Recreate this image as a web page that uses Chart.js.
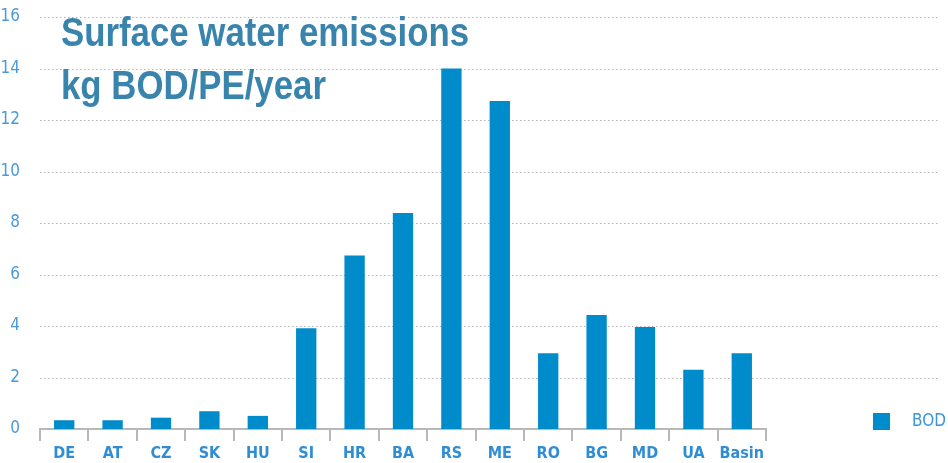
<!DOCTYPE html>
<html>
<head>
<meta charset="utf-8">
<script src="https://cdn.jsdelivr.net/npm/chart.js@4/dist/chart.umd.min.js"></script>
<style>
html,body{margin:0;padding:0;background:#fff;}
#wrap{width:948px;height:463px;position:relative;}
</style>
</head>
<body>
<div id="wrap"><canvas id="c" width="948" height="463"></canvas></div>
<script>
const categories = ['DE','AT','CZ','SK','HU','SI','HR','BA','RS','ME','RO','BG','MD','UA','Basin'];
const bodValues = [0.34,0.34,0.44,0.69,0.51,3.91,6.74,8.39,14.0,12.74,2.94,4.43,3.96,2.30,2.94];
const seriesName = 'BOD';
const titleLines = ['Surface water emissions','kg BOD/PE/year'];
const yTicks = [0,2,4,6,8,10,12,14,16];

const BAR = '#008bcb';
const NARROW = "'Liberation Sans Narrow','DejaVu Sans Condensed','Roboto Condensed',sans-serif";

const extrasPlugin = {
  id: 'extras',
  beforeDatasetsDraw(chart) {
    const ctx = chart.ctx, y = chart.scales.y, ca = chart.chartArea;
    ctx.save();
    ctx.strokeStyle = '#b4b4b4';
    ctx.lineWidth = 1;
    ctx.setLineDash([1.5, 2.5]);
    yTicks.forEach(v => {
      if (v === 0) return;
      const py = Math.round(y.getPixelForValue(v)) + 0.5;
      ctx.beginPath();
      ctx.moveTo(ca.left, py);
      ctx.lineTo(chart.width - 8, py);
      ctx.stroke();
    });
    ctx.restore();
  },
  afterDraw(chart) {
    const ctx = chart.ctx, ca = chart.chartArea;
    ctx.save();
    ctx.fillStyle = '#3884ad';
    ctx.textBaseline = 'alphabetic';
    ctx.font = "bold 40px 'Liberation Sans','Arial',sans-serif";
    const sx = 0.87;
    titleLines.forEach((t, i) => {
      ctx.save();
      ctx.translate(ca.left + 21, 46 + i * 53);
      ctx.scale(sx, 1);
      ctx.fillText(t, 0, 0);
      ctx.restore();
    });
    const ds = chart.data.datasets[0];
    const lx = ca.right + 107, ly = ca.bottom - 16;
    ctx.fillStyle = ds.backgroundColor;
    ctx.fillRect(lx, ly, 17, 17);
    ctx.fillStyle = '#3d94d8';
    ctx.font = "17px " + NARROW;
    ctx.textBaseline = 'middle';
    ctx.fillText(ds.label, lx + 39, ly + 9);
    ctx.restore();
  }
};

new Chart(document.getElementById('c'), {
  type: 'bar',
  data: {
    labels: categories,
    datasets: [{
      label: seriesName,
      data: bodValues,
      backgroundColor: BAR,
      borderWidth: 0,
      categoryPercentage: 1,
      barPercentage: 0.42
    }]
  },
  options: {
    responsive: false,
    animation: false,
    devicePixelRatio: 1,
    layout: { padding: { top: 17, right: 182, left: 0, bottom: 0 } },
    plugins: {
      legend: { display: false },
      title: { display: false },
      tooltip: { enabled: false }
    },
    scales: {
      x: {
        offset: true,
        grid: { display: true, drawOnChartArea: false, drawTicks: true, tickLength: 12, color: '#b8b8b8', lineWidth: 2, offset: true },
        border: { display: true, color: '#b8b8b8', width: 2 },
        ticks: { color: '#2f8dd6', font: { family: NARROW, size: 16, weight: 'bold' }, padding: 3, maxRotation: 0, autoSkip: false },
        afterFit(s) { s.height = 34; s.paddingLeft = 0; s.paddingRight = 0; }
      },
      y: {
        min: 0, max: 16,
        afterBuildTicks(s) { s.ticks = yTicks.map(v => ({ value: v })); },
        grid: { display: false },
        border: { display: false },
        ticks: { color: '#4a9adb', font: { family: NARROW, size: 17 }, padding: 12 },
        afterFit(s) { s.width = 40; s.paddingTop = 0; s.paddingBottom = 0; }
      }
    }
  },
  plugins: [extrasPlugin]
});
</script>
</body>
</html>
